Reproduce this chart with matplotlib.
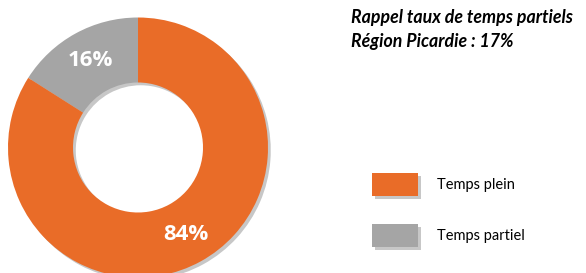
import matplotlib.pyplot as plt
import matplotlib.patheffects as pe
from matplotlib.patches import Rectangle

# données
categories = ['Temps plein', 'Temps partiel']
values = [84, 16]
colors = ['#E96C28', '#A5A5A5']

W, H = 586, 273
fig = plt.figure(figsize=(W / 100, H / 100), dpi=100)
ax = fig.add_axes([0, 0, 1, 1])

shadow = [pe.SimplePatchShadow(offset=(2, -2), shadow_rgbFace='black', alpha=0.22), pe.Normal()]

wedges, texts, autotexts = ax.pie(
    values, colors=colors, startangle=90, counterclock=False,
    center=(138, H - 147.5), radius=130, frame=True,
    wedgeprops=dict(width=65, linewidth=0, path_effects=shadow),
    autopct='%d%%', pctdistance=0.76,
    textprops=dict(color='white', fontsize=16, fontweight='bold', family='Open Sans'))
# le gris dessous pour que son ombre soit cachée par l'orange
wedges[0].set_zorder(2)
wedges[1].set_zorder(1)
for t in autotexts:
    t.set_zorder(3)
ax.set_xlim(0, W)
ax.set_ylim(0, H)
ax.set_aspect('equal')
ax.axis('off')

fig.text(351 / W, 1 - 18 / H, 'Rappel taux de temps partiels', fontsize=12.8,
         fontweight='bold', fontstyle='italic', family='Lato', va='center', ha='left')
fig.text(351 / W, 1 - 42 / H, 'Région Picardie : 17%', fontsize=12.8,
         fontweight='bold', fontstyle='italic', family='Lato', va='center', ha='left')

# légende
for i, (lab, c) in enumerate(zip(categories, colors)):
    y = 173 + i * 51
    r = Rectangle((372 / W, 1 - (y + 23) / H), 46 / W, 23 / H, transform=fig.transFigure,
                  facecolor=c, linewidth=0, path_effects=shadow)
    fig.patches.append(r)
    fig.text(437 / W, 1 - (y + 12) / H, lab, fontsize=10.5, family='Lato',
             va='center', ha='left')

fig.savefig('out.png', dpi=100)
